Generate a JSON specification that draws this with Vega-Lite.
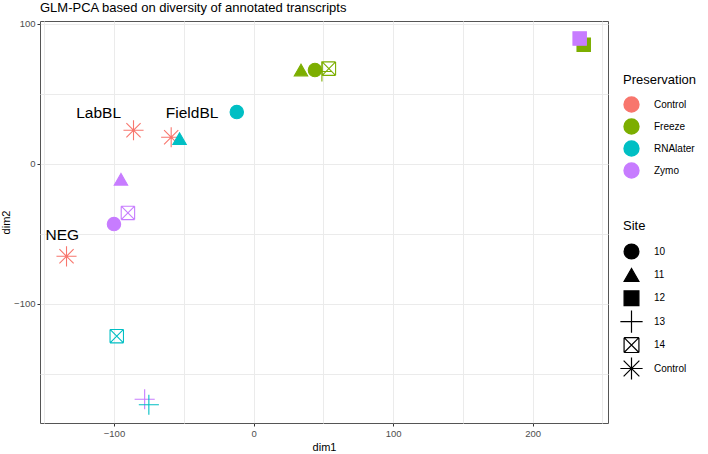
{
  "$schema": "https://vega.github.io/schema/vega-lite/v6.json",
  "autosize": {"type": "none"},
  "width": 568,
  "height": 402,
  "padding": {"left": 40, "top": 21, "right": 100, "bottom": 31},
  "title": {
    "text": "GLM-PCA based on diversity of annotated transcripts",
    "anchor": "start",
    "frame": "group",
    "fontSize": 13,
    "fontWeight": "normal",
    "color": "#000000",
    "offset": 4
  },
  "config": {
    "font": "Liberation Sans",
    "view": {"stroke": "#555555", "strokeWidth": 1},
    "axis": {
      "domain": false,
      "gridColor": "#ebebeb",
      "gridWidth": 1,
      "tickColor": "#333333",
      "tickSize": 3,
      "labelColor": "#4d4d4d",
      "labelFontSize": 9.5,
      "titleFontSize": 11,
      "titleFontWeight": "normal",
      "titleColor": "#000000"
    }
  },
  "datasets": {
    "points": [
      {"Preservation": "Freeze", "Site": "12", "dim1": 236.6, "dim2": 85},
      {"Preservation": "Zymo", "Site": "12", "dim1": 233.7, "dim2": 89.5},
      {"Preservation": "Freeze", "Site": "11", "dim1": 34, "dim2": 67},
      {"Preservation": "Freeze", "Site": "13", "dim1": 49, "dim2": 66},
      {"Preservation": "Freeze", "Site": "10", "dim1": 44, "dim2": 67},
      {"Preservation": "Freeze", "Site": "14", "dim1": 54, "dim2": 68},
      {"Preservation": "RNAlater", "Site": "10", "dim1": -12, "dim2": 37},
      {"Preservation": "Control", "Site": "Control", "dim1": -59, "dim2": 19},
      {"Preservation": "RNAlater", "Site": "11", "dim1": -53, "dim2": 18},
      {"Preservation": "Control", "Site": "Control", "dim1": -86, "dim2": 24},
      {"Preservation": "Zymo", "Site": "11", "dim1": -95, "dim2": -11},
      {"Preservation": "Zymo", "Site": "14", "dim1": -90, "dim2": -35},
      {"Preservation": "Zymo", "Site": "10", "dim1": -100, "dim2": -43},
      {"Preservation": "Control", "Site": "Control", "dim1": -134, "dim2": -66},
      {"Preservation": "RNAlater", "Site": "14", "dim1": -98, "dim2": -123},
      {"Preservation": "Zymo", "Site": "13", "dim1": -78, "dim2": -168},
      {"Preservation": "RNAlater", "Site": "13", "dim1": -75, "dim2": -172}
    ],
    "labels": [
      {"label": "LabBL", "dim1": -111, "dim2": 36},
      {"label": "FieldBL", "dim1": -44, "dim2": 36},
      {"label": "NEG", "dim1": -137, "dim2": -51}
    ]
  },
  "encoding": {
    "x": {
      "field": "dim1",
      "type": "quantitative",
      "scale": {"domain": [-153, 254], "nice": false, "zero": false},
      "axis": {
        "title": "dim1",
        "values": [-150, -100, -50, 0, 50, 100, 150, 200, 250],
        "labelExpr": "datum.value % 100 === 0 ? datum.label : ''",
        "tickOpacity": {"condition": {"test": "datum.value % 100 !== 0", "value": 0}, "value": 1},
        "titlePadding": 4
      }
    },
    "y": {
      "field": "dim2",
      "type": "quantitative",
      "scale": {"domain": [-185, 102], "nice": false, "zero": false},
      "axis": {
        "title": "dim2",
        "values": [-150, -100, -50, 0, 50, 100],
        "labelExpr": "datum.value % 100 === 0 ? datum.label : ''",
        "tickOpacity": {"condition": {"test": "datum.value % 100 !== 0", "value": 0}, "value": 1},
        "titlePadding": 2
      }
    }
  },
  "layer": [
    {
      "data": {"name": "points"},
      "mark": {"type": "point", "filled": true, "opacity": 1, "size": 180, "strokeWidth": 1.1},
      "encoding": {
        "color": {
          "field": "Preservation",
          "type": "nominal",
          "scale": {
            "domain": ["Control", "Freeze", "RNAlater", "Zymo"],
            "range": ["#F8766D", "#7CAE00", "#00BFC4", "#C77CFF"]
          },
          "legend": {
            "title": "Preservation",
            "orient": "none",
            "legendX": 583,
            "legendY": 53,
            "symbolType": "circle",
            "symbolSize": 220,
            "symbolOpacity": 1,
            "titleFontSize": 13,
            "titleFontWeight": "normal",
            "titleColor": "#000000",
            "titlePadding": 9,
            "labelFontSize": 10,
            "labelColor": "#000000",
            "labelOffset": 14,
            "rowPadding": 1
          }
        },
        "stroke": {
          "field": "Preservation",
          "type": "nominal",
          "scale": {
            "domain": ["Control", "Freeze", "RNAlater", "Zymo"],
            "range": ["#F8766D", "#7CAE00", "#00BFC4", "#C77CFF"]
          },
          "legend": null
        },
        "shape": {
          "field": "Site",
          "type": "nominal",
          "scale": {
            "domain": ["10", "11", "12", "13", "14", "Control"],
            "range": [
              "circle",
              "triangle-up",
              "square",
              "M-1.5,0H1.5M0,-1.5V1.5",
              "M-1,-1H1M1,-1V1M1,1H-1M-1,1V-1M-1,-1L1,1M-1,1L1,-1",
              "M-1.5,0H1.5M0,-1.5V1.5M-1.06,-1.06L1.06,1.06M-1.06,1.06L1.06,-1.06"
            ]
          },
          "legend": {
            "title": "Site",
            "orient": "none",
            "legendX": 583,
            "legendY": 199,
            "gridAlign": "all",
            "symbolSize": 220,
            "symbolOpacity": 1,
            "symbolFillColor": "#000000",
            "symbolStrokeColor": "#000000",
            "symbolStrokeWidth": 1.2,
            "titleFontSize": 13,
            "titleFontWeight": "normal",
            "titleColor": "#000000",
            "titlePadding": 10,
            "labelFontSize": 10,
            "labelColor": "#000000",
            "labelOffset": 14,
            "rowPadding": -5.6
          }
        }
      }
    },
    {
      "data": {"name": "labels"},
      "mark": {"type": "text", "fontSize": 15.5, "color": "#000000", "align": "center", "baseline": "middle"},
      "encoding": {
        "text": {"field": "label", "type": "nominal"}
      }
    }
  ]
}
